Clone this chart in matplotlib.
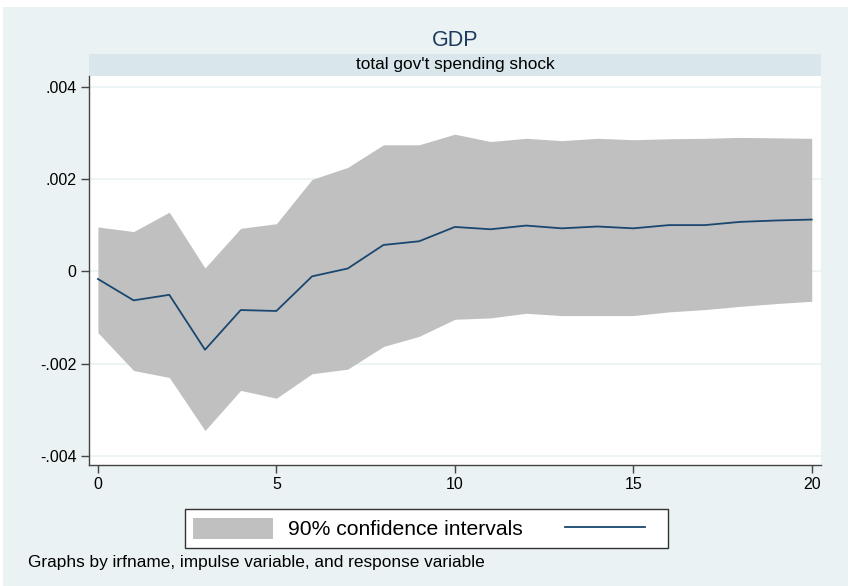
import matplotlib
matplotlib.use("Agg")
import matplotlib.pyplot as plt
from matplotlib.patches import Rectangle, Patch
from matplotlib.lines import Line2D

plt.rcParams['font.family'] = ['Liberation Sans', 'DejaVu Sans']

# Impulse response of GDP to a total government spending shock
step = list(range(21))
irf = [-0.000167, -0.00063, -0.00051, -0.00170, -0.00084, -0.00086, -0.00011,
       0.00006, 0.00057, 0.00065, 0.00096, 0.00091, 0.00099, 0.00093, 0.00097,
       0.00093, 0.00100, 0.00100, 0.00107, 0.00110, 0.00112]
upper = [0.00096, 0.00086, 0.00128, 0.00007, 0.00093, 0.00103, 0.00199,
         0.00225, 0.00274, 0.00274, 0.00297, 0.00281, 0.00288, 0.00283, 0.00288,
         0.00285, 0.00287, 0.00288, 0.00290, 0.00289, 0.00288]
lower = [-0.00133, -0.00215, -0.00230, -0.00345, -0.00258, -0.00275, -0.00222,
         -0.00212, -0.00163, -0.00141, -0.00104, -0.00101, -0.00091, -0.00096,
         -0.00096, -0.00096, -0.00088, -0.00083, -0.00076, -0.00070, -0.00065]

y_ticks = [-0.004, -0.002, 0.0, 0.002, 0.004]
y_labels = ['-.004', '-.002', '0', '.002', '.004']
x_ticks = [0, 5, 10, 15, 20]

title = 'GDP'
subtitle = "total gov't spending shock"
band_label = '90% confidence intervals'
note = 'Graphs by irfname, impulse variable, and response variable'

BG = '#EAF2F3'
STRIP = '#D9E6EB'
BAND = '#C0C0C0'
LINE = '#1A476F'

W, H = 848, 586
fig = plt.figure(figsize=(W / 100, H / 100), dpi=100)
fig.patch.set_facecolor('white')


def fx(px):
    return px / W


def fy(py):
    return 1 - py / H


# graph region background
fig.patches.append(Rectangle((fx(3), 0), fx(W - 3), fy(7), transform=fig.transFigure,
                             facecolor=BG, edgecolor='none', zorder=-10))

# plot region
L, R, T, B = 89, 821, 76, 464.7
ax = fig.add_axes([fx(L), fy(B), fx(R - L), fy(T) - fy(B)], zorder=1)
ax.set_facecolor('white')
ax.fill_between(step, lower, upper, color=BAND, linewidth=0, zorder=2)
ax.plot(step, irf, color=LINE, linewidth=1.3, zorder=3)

ax.set_xlim(-0.25, 20.26)
ax.set_ylim(-0.00419, 0.00423)
ax.set_yticks(y_ticks)
ax.set_yticklabels(y_labels)
ax.set_xticks(x_ticks)
ax.grid(axis='y', color=BG, linewidth=1.2, zorder=1)
ax.set_axisbelow(True)
for s in ('top', 'right'):
    ax.spines[s].set_visible(False)
for s in ('left', 'bottom'):
    ax.spines[s].set_color('#444444')
    ax.spines[s].set_linewidth(1.0)
ax.tick_params(axis='both', direction='out', length=6, width=1.0, color='#444444',
               labelsize=11.5, labelcolor='black', pad=3)

# subtitle strip
fig.patches.append(Rectangle((fx(L), fy(76)), fx(R - L), fy(54) - fy(76),
                             transform=fig.transFigure, facecolor=STRIP,
                             edgecolor='none', zorder=-5))
fig.text(fx((L + R) / 2), fy(65), subtitle, ha='center', va='center',
         fontsize=12.4, color='black')

# title
fig.text(fx(455), fy(40), title, ha='center', va='center', fontsize=15.5,
         color='#1E3A5F')

# legend
handles = [Patch(facecolor=BAND, edgecolor='none'),
           Line2D([0], [0], color=LINE, linewidth=1.3)]
leg = fig.legend(handles, [band_label, ''], loc='center',
                 bbox_to_anchor=(fx(426.5), fy(528.5)), ncol=2, fontsize=15.2,
                 frameon=True, fancybox=False, framealpha=1, handlelength=3.8,
                 handleheight=1.2, handletextpad=0.7, columnspacing=2.0,
                 borderpad=0.4, borderaxespad=0)
leg.get_frame().set_edgecolor('#333333')
leg.get_frame().set_linewidth(1.0)
leg.get_frame().set_facecolor('white')

# note
fig.text(fx(28), fy(562), note, ha='left', va='center', fontsize=12.4, color='black')

fig.savefig('out.png', dpi=100, facecolor=fig.get_facecolor())
